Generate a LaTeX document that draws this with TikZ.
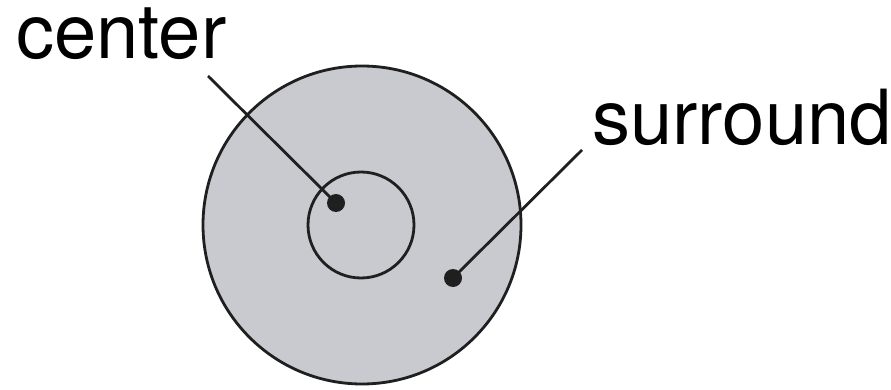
\documentclass[tikz,border=0pt]{standalone}
\usepackage{fontspec}
\setmainfont{TeX Gyre Heros}
\definecolor{fieldgray}{RGB}{201,202,207}
\begin{document}
\begin{tikzpicture}[x=1pt, y=-1pt, line width=2.8pt,
    every node/.style={font=\fontsize{76}{82}\selectfont},
    dotmark/.style={circle, fill=black!88, inner sep=0pt, minimum size=18pt}]
  \useasboundingbox (0,0) rectangle (891,390);
  % Receptive field
  \draw[fill=fieldgray, draw=black!88] (362,225) circle (159);
  \draw[draw=black!88] (361,225) circle (53);
  \node[dotmark] (cdot) at (336,203) {};
  \node[dotmark] (sdot) at (453,278) {};

  % Labels
  \node[anchor=base west, inner sep=0pt] (clab) at (15,59) {center};
  \node[anchor=base west, inner sep=0pt] (slab) at (591,145) {surround};
  \coordinate (cend) at (208,76);
  \coordinate (send) at (582,150);
  \draw[black!88] (cdot.center) -- (cend);
  \draw[black!88] (sdot.center) -- (send);
\end{tikzpicture}
\end{document}
